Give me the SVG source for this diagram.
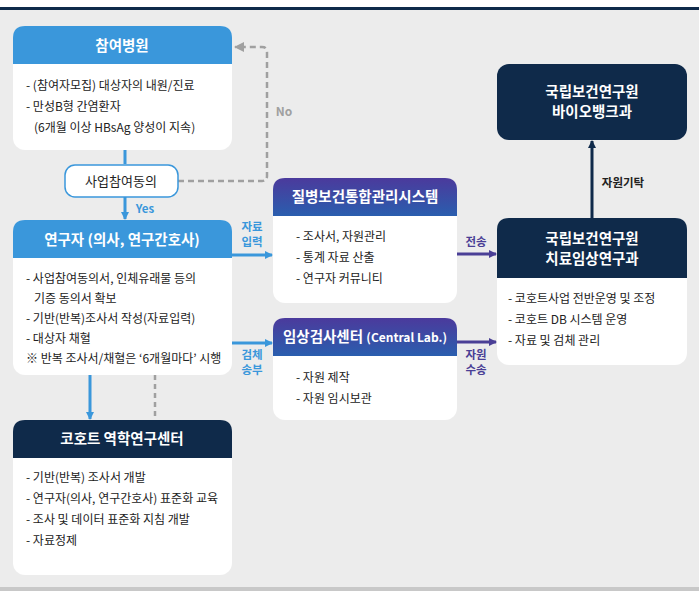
<svg xmlns="http://www.w3.org/2000/svg" width="699" height="602" viewBox="0 0 699 602">
<style>
text{font-family:"Noto Sans CJK KR","Noto Sans",sans-serif}
.h{fill:#fff;font-size:14.5px;font-weight:bold;text-anchor:middle}
.b{fill:#222;font-size:12px}
.lb{font-size:11.5px;font-weight:bold;text-anchor:middle}
.card{fill:#fff}
</style>
<defs>
<linearGradient id="pg" x1="0" y1="0" x2="0" y2="1"><stop offset="0" stop-color="#4b3a9c"/><stop offset="1" stop-color="#2a5eae"/></linearGradient>
<marker id="ab" markerWidth="8" markerHeight="8" refX="7" refY="4" orient="auto" markerUnits="userSpaceOnUse"><path d="M0,0L8,4L0,8z" fill="#3a97db"/></marker>
<marker id="ap" markerWidth="8" markerHeight="8" refX="7" refY="4" orient="auto" markerUnits="userSpaceOnUse"><path d="M0,0L8,4L0,8z" fill="#4a3f96"/></marker>
<marker id="an" markerWidth="8" markerHeight="8" refX="7" refY="4" orient="auto" markerUnits="userSpaceOnUse"><path d="M0,0L8,4L0,8z" fill="#0f2a4a"/></marker>
<marker id="ag" markerWidth="10" markerHeight="10" refX="9" refY="5" orient="auto" markerUnits="userSpaceOnUse"><path d="M0,0L10,5L0,10z" fill="#a0a0a0"/></marker>
</defs>
<rect width="699" height="602" fill="#fff"/>
<rect x="0" y="10" width="699" height="578" fill="#ececec"/>
<rect x="0" y="7" width="699" height="3" fill="#0f2a4a"/>
<rect x="0" y="587" width="699" height="4" fill="#c8c8c8"/>
<g id="connectors" fill="none">
<line x1="125" y1="150" x2="125" y2="164" stroke="#3a97db" stroke-width="3"/>
<line x1="125" y1="197" x2="125" y2="219" stroke="#3a97db" stroke-width="3" marker-end="url(#ab)"/>
<path d="M178,181H262Q267,181 267,176V52Q267,47 262,47H235" stroke="#a0a0a0" stroke-width="2.5" stroke-dasharray="6,4" marker-end="url(#ag)"/>
<line x1="232" y1="255" x2="272" y2="255" stroke="#3a97db" stroke-width="3" marker-end="url(#ab)"/>
<line x1="232" y1="343" x2="272" y2="343" stroke="#3a97db" stroke-width="3" marker-end="url(#ab)"/>
<line x1="90" y1="375" x2="90" y2="419" stroke="#3a97db" stroke-width="3" marker-end="url(#ab)"/>
<line x1="155" y1="375" x2="155" y2="420" stroke="#a0a0a0" stroke-width="2.5" stroke-dasharray="5,4"/>
<line x1="457" y1="254" x2="496" y2="254" stroke="#4a3f96" stroke-width="3" marker-end="url(#ap)"/>
<line x1="457" y1="342" x2="496" y2="342" stroke="#4a3f96" stroke-width="3" marker-end="url(#ap)"/>
<line x1="592" y1="218" x2="592" y2="141" stroke="#0f2a4a" stroke-width="3" marker-end="url(#an)"/>
<text x="284" y="116" fill="#a0a0a0" font-size="12" font-weight="bold" text-anchor="middle">No</text>
<text x="145" y="213" fill="#3a97db" class="lb">Yes</text>
<text x="252" y="231" fill="#3a97db" class="lb">자료</text>
<text x="252" y="246" fill="#3a97db" class="lb">입력</text>
<text x="252" y="359" fill="#3a97db" class="lb">검체</text>
<text x="252" y="374" fill="#3a97db" class="lb">송부</text>
<text x="476" y="246" fill="#4a3f96" class="lb">전송</text>
<text x="476" y="359" fill="#4a3f96" class="lb">자원</text>
<text x="476" y="374" fill="#4a3f96" class="lb">수송</text>
<text x="623" y="187" fill="#222" class="lb">자원기탁</text>
</g>
<g id="hospital">
<rect x="13" y="26" width="219" height="124" rx="12" class="card"/>
<path d="M13,64V38Q13,26 25,26H220Q232,26 232,38V64Z" fill="#3a97db"/>
<text x="122" y="51" class="h">참여병원</text>
<text x="26" y="90" class="b">- (참여자모집) 대상자의 내원/진료</text>
<text x="26" y="111" class="b">- 만성B형 간염환자</text>
<text x="34" y="132" class="b">(6개월 이상 HBsAg 양성이 지속)</text>
</g>
<g id="consent">
<rect x="65" y="165" width="113" height="32" rx="10" fill="#fff" stroke="#3a97db" stroke-width="1.5"/>
<text x="121" y="186" fill="#222" font-size="13" text-anchor="middle">사업참여동의</text>
</g>
<g id="researcher">
<rect x="13" y="220" width="219" height="155" rx="12" class="card"/>
<path d="M13,258V232Q13,220 25,220H220Q232,220 232,232V258Z" fill="#3a97db"/>
<text x="122" y="245" class="h">연구자 (의사, 연구간호사)</text>
<text x="26" y="283" class="b">- 사업참여동의서, 인체유래물 등의</text>
<text x="34" y="303" class="b">기증 동의서 확보</text>
<text x="26" y="323" class="b">- 기반(반복)조사서 작성(자료입력)</text>
<text x="26" y="343" class="b">- 대상자 채혈</text>
<text x="26" y="363" class="b" font-size="11">※ 반복 조사서/채혈은 ‘6개월마다’ 시행</text>
</g>
<g id="cohort">
<rect x="13" y="420" width="219" height="155" rx="12" class="card"/>
<path d="M13,458V432Q13,420 25,420H220Q232,420 232,432V458Z" fill="#0f2a4a"/>
<text x="122" y="444" class="h">코호트 역학연구센터</text>
<text x="26" y="482" class="b">- 기반(반복) 조사서 개발</text>
<text x="26" y="503" class="b">- 연구자(의사, 연구간호사) 표준화 교육</text>
<text x="26" y="524" class="b">- 조사 및 데이터 표준화 지침 개발</text>
<text x="26" y="545" class="b">- 자료정제</text>
</g>
<g id="system">
<rect x="273" y="178" width="184" height="125" rx="12" class="card"/>
<path d="M273,216V190Q273,178 285,178H445Q457,178 457,190V216Z" fill="url(#pg)"/>
<text x="365" y="202" class="h">질병보건통합관리시스템</text>
<text x="296" y="241" class="b">- 조사서, 자원관리</text>
<text x="296" y="262" class="b">- 통계 자료 산출</text>
<text x="296" y="283" class="b">- 연구자 커뮤니티</text>
</g>
<g id="lab">
<rect x="273" y="318" width="184" height="102" rx="12" class="card"/>
<path d="M273,356V330Q273,318 285,318H445Q457,318 457,330V356Z" fill="url(#pg)"/>
<text x="365" y="342" class="h">임상검사센터 <tspan font-size="12">(Central Lab.)</tspan></text>
<text x="296" y="382" class="b">- 자원 제작</text>
<text x="296" y="403" class="b">- 자원 임시보관</text>
</g>
<g id="clinical">
<rect x="497" y="218" width="190" height="147" rx="12" class="card"/>
<path d="M497,278V230Q497,218 509,218H675Q687,218 687,230V278Z" fill="#0f2a4a"/>
<text x="592" y="244" class="h">국립보건연구원</text>
<text x="592" y="264" class="h">치료임상연구과</text>
<text x="508" y="303" class="b">- 코호트사업 전반운영 및 조정</text>
<text x="508" y="324" class="b">- 코호트 DB 시스템 운영</text>
<text x="508" y="345" class="b">- 자료 및 검체 관리</text>
</g>
<g id="biobank">
<rect x="497" y="64" width="190" height="76" rx="12" fill="#0f2a4a"/>
<text x="592" y="97" class="h">국립보건연구원</text>
<text x="592" y="117" class="h">바이오뱅크과</text>
</g>
</svg>
